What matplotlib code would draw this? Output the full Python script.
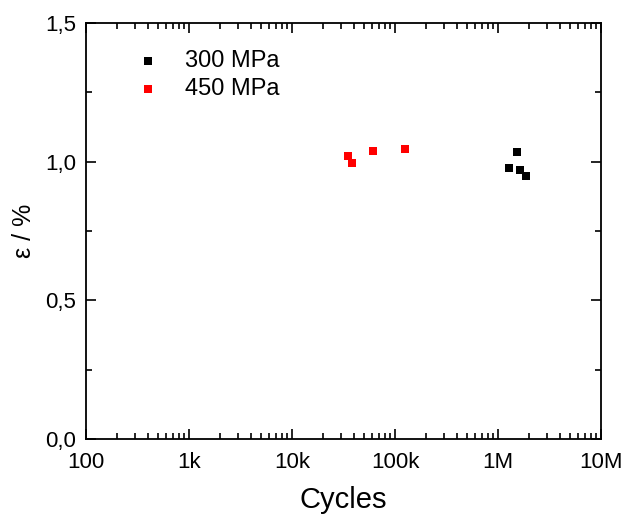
import numpy as np
import matplotlib.pyplot as plt
from matplotlib.ticker import LogLocator, NullFormatter, MultipleLocator

plt.rcParams['font.family'] = ['Liberation Sans', 'DejaVu Sans']

# 300 MPa series
cycles_300 = [1.27e6, 1.52e6, 1.64e6, 1.87e6]
strain_300 = [0.976, 1.034, 0.969, 0.948]
# 450 MPa series
cycles_450 = [3.5e4, 3.83e4, 6.07e4, 1.26e5]
strain_450 = [1.022, 0.994, 1.037, 1.046]

xticks = [1e2, 1e3, 1e4, 1e5, 1e6, 1e7]
xlabels = ['100', '1k', '10k', '100k', '1M', '10M']
yticks = [0.0, 0.5, 1.0, 1.5]
ylabels = ['0,0', '0,5', '1,0', '1,5']

fig = plt.figure(figsize=(6.27, 5.2), dpi=100)
ax = fig.add_axes([86/627, 81/520, 515/627, 416/520])

ax.scatter(cycles_300, strain_300, marker='s', s=28, color='black', label='300 MPa', linewidths=0)
ax.scatter(cycles_450, strain_450, marker='s', s=28, color='red', label='450 MPa', linewidths=0)

ax.set_xscale('log')
ax.set_xlim(1e2, 1e7)
ax.set_ylim(0, 1.5)
ax.set_xticks(xticks)
ax.set_xticklabels(xlabels)
ax.xaxis.set_minor_locator(LogLocator(base=10, subs=np.arange(2, 10)))
ax.xaxis.set_minor_formatter(NullFormatter())
ax.set_yticks(yticks)
ax.set_yticklabels(ylabels)
ax.yaxis.set_minor_locator(MultipleLocator(0.25))

ax.tick_params(which='both', direction='in', top=True, right=True, labelsize=16, width=1.2)
ax.tick_params(which='major', length=7)
ax.tick_params(which='minor', length=4)
ax.tick_params(axis='x', which='major', pad=9)
ax.tick_params(axis='y', which='major', pad=7)
for s in ax.spines.values():
    s.set_linewidth(1.3)

ax.set_xlabel('Cycles', fontsize=21, labelpad=10)
ax.set_ylabel('ε / %', fontsize=18, labelpad=7)

ax.legend(loc='upper left', bbox_to_anchor=(0.045, 0.985), frameon=False, fontsize=17,
          handletextpad=0.8, labelspacing=0.25, markerscale=1.0, handlelength=1.5)

fig.savefig('out.png', dpi=100)
